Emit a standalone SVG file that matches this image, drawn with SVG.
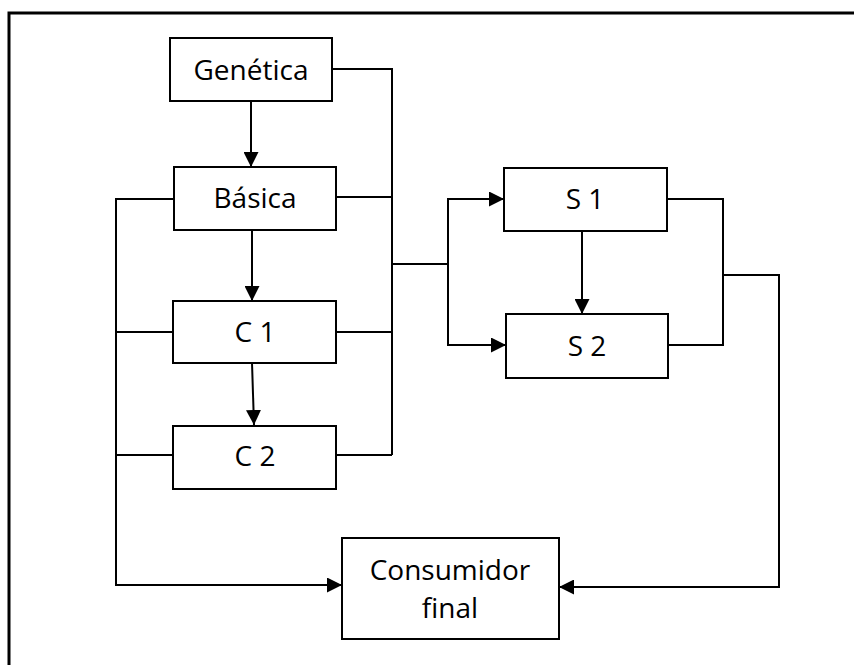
<svg xmlns="http://www.w3.org/2000/svg" width="854" height="665" viewBox="0 0 854 665">
<style>
.box{fill:#fff;stroke:#000;stroke-width:2}
.ln{fill:none;stroke:#000;stroke-width:2}
.ar{fill:none;stroke:#000;stroke-width:2;marker-end:url(#ah)}
.t{font-family:"Open Sans","Liberation Sans",sans-serif;font-size:28px;fill:#000;text-anchor:middle}
</style>
<defs>
<marker id="ah" viewBox="0 0 10 10" refX="10" refY="5" markerWidth="15" markerHeight="15" markerUnits="userSpaceOnUse" orient="auto">
<path d="M0,0 L10,5 L0,10 Z" fill="#000"/>
</marker>
</defs>
<rect x="0" y="0" width="854" height="665" fill="#fff"/>
<path d="M9,665 V13 H854" fill="none" stroke="#000" stroke-width="3"/>
<g id="connectors">
<path class="ln" d="M332,69 H392 V455"/>
<path class="ln" d="M336,197 H392"/>
<path class="ln" d="M336,332 H392"/>
<path class="ln" d="M336,455 H392"/>
<path class="ln" d="M392,264 H448"/>
<path class="ln" d="M448,199 V345"/>
<path class="ln" d="M174,199 H116 V585"/>
<path class="ln" d="M173,332 H116"/>
<path class="ln" d="M173,455 H116"/>
<path class="ln" d="M667,199 H723 V345 H668"/>
<path class="ln" d="M723,275 H779 V587"/>
<path class="ar" d="M251,101 V167"/>
<path class="ar" d="M252,230 V301"/>
<path class="ar" d="M252,363 L254,425"/>
<path class="ar" d="M582,231 V314"/>
<path class="ar" d="M447,199 H504"/>
<path class="ar" d="M447,345 H506"/>
<path class="ar" d="M115,585 H342"/>
<path class="ar" d="M780,587 H559"/>
</g>
<g id="genetica"><rect class="box" x="170" y="38" width="162" height="63"/><text class="t" x="251" y="80">Genética</text></g>
<g id="basica"><rect class="box" x="174" y="167" width="162" height="63"/><text class="t" x="255" y="208">Básica</text></g>
<g id="c1"><rect class="box" x="173" y="301" width="163" height="62"/><text class="t" x="255" y="342">C 1</text></g>
<g id="c2"><rect class="box" x="173" y="426" width="163" height="63"/><text class="t" x="255" y="466">C 2</text></g>
<g id="s1"><rect class="box" x="504" y="168" width="163" height="63"/><text class="t" x="585" y="209">S 1</text></g>
<g id="s2"><rect class="box" x="506" y="314" width="162" height="64"/><text class="t" x="587" y="356">S 2</text></g>
<g id="consumidor"><rect class="box" x="342" y="538" width="217" height="101"/><text class="t" x="450" y="580">Consumidor</text><text class="t" x="450" y="618">final</text></g>
</svg>
